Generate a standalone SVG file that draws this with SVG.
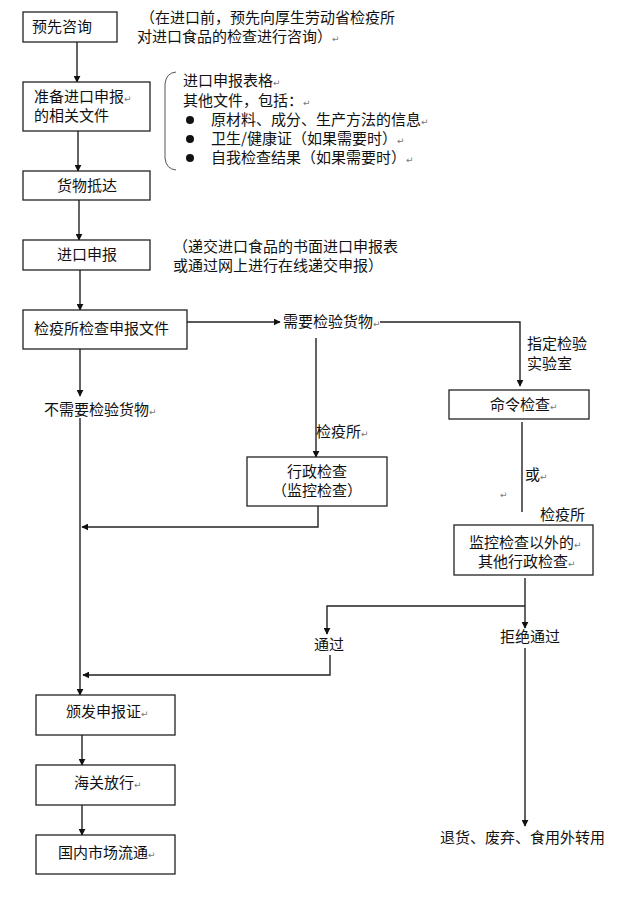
<svg xmlns="http://www.w3.org/2000/svg" width="620" height="900" viewBox="0 0 620 900">
<style>
text{font-family:"Noto Sans CJK SC","Noto Sans CJK JP",sans-serif;font-size:15px;fill:#111}
.c{text-anchor:middle}
.box{fill:#fff;stroke:#222;stroke-width:1.3}
.ln{fill:none;stroke:#222;stroke-width:1.4}
.rm{font-family:"DejaVu Sans",sans-serif;font-size:9px;fill:#777}
</style>
<defs>
<marker id="ah" viewBox="0 0 10 10" refX="9" refY="5" markerWidth="7" markerHeight="7" orient="auto" markerUnits="userSpaceOnUse">
<path d="M0,0 L10,5 L0,10 z" fill="#111"/>
</marker>
</defs>
<rect width="620" height="900" fill="#fff"/>
<g id="connectors">
<line class="ln" x1="77" y1="42" x2="77" y2="82" marker-end="url(#ah)"/>
<line class="ln" x1="78" y1="131" x2="78" y2="171" marker-end="url(#ah)"/>
<line class="ln" x1="79" y1="200" x2="79" y2="240" marker-end="url(#ah)"/>
<line class="ln" x1="80" y1="270" x2="80" y2="310" marker-end="url(#ah)"/>
<line class="ln" x1="187" y1="322" x2="280" y2="322" marker-end="url(#ah)"/>
<polyline class="ln" points="380,322 520,322 520,386" marker-end="url(#ah)"/>
<line class="ln" x1="316" y1="338" x2="316" y2="457" marker-end="url(#ah)"/>
<polyline class="ln" points="318,506 318,527 82,527" marker-end="url(#ah)"/>
<line class="ln" x1="80" y1="349" x2="80" y2="396" marker-end="url(#ah)"/>
<line class="ln" x1="80" y1="418" x2="80" y2="695" marker-end="url(#ah)"/>
<line class="ln" x1="522" y1="422" x2="522" y2="512"/>
<line class="ln" x1="525" y1="578" x2="525" y2="628" marker-end="url(#ah)"/>
<polyline class="ln" points="525,606 327,606 327,634" marker-end="url(#ah)"/>
<polyline class="ln" points="330,655 330,675 83,675" marker-end="url(#ah)"/>
<line class="ln" x1="525" y1="648" x2="525" y2="826" marker-end="url(#ah)"/>
<line class="ln" x1="82" y1="735" x2="82" y2="765" marker-end="url(#ah)"/>
<line class="ln" x1="82" y1="805" x2="82" y2="835" marker-end="url(#ah)"/>
</g>
<g id="n1"><rect class="box" x="23" y="12" width="94" height="30"/><text x="32" y="32">预先咨询</text></g>
<g id="note1"><text x="140" y="23">（在进口前，预先向厚生劳动省检疫所</text><text x="137" y="42">对进口食品的检查进行咨询）<tspan class="rm">↵</tspan></text></g>
<g id="n2"><rect class="box" x="23" y="82" width="127" height="49"/><text x="34" y="102">准备进口申报<tspan class="rm">↵</tspan></text><text x="34" y="121">的相关文件</text></g>
<g id="note2">
<path d="M176,72 Q166,73 165,84 L165,158 Q166,169 176,170" fill="none" stroke="#555" stroke-width="1"/>
<text x="183" y="86">进口申报表格<tspan class="rm">↵</tspan></text>
<text x="183" y="106">其他文件，包括：<tspan class="rm">↵</tspan></text>
<circle cx="190" cy="120" r="4" fill="#111"/><text x="211" y="125">原材料、成分、生产方法的信息<tspan class="rm">↵</tspan></text>
<circle cx="190" cy="139" r="4" fill="#111"/><text x="211" y="144">卫生/健康证（如果需要时）<tspan class="rm">↵</tspan></text>
<circle cx="190" cy="158" r="4" fill="#111"/><text x="211" y="163">自我检查结果（如果需要时）<tspan class="rm">↵</tspan></text>
</g>
<g id="n3"><rect class="box" x="23" y="171" width="127" height="29"/><text class="c" x="87" y="191">货物抵达</text></g>
<g id="n4"><rect class="box" x="23" y="240" width="127" height="30"/><text class="c" x="87" y="260">进口申报</text></g>
<g id="note3"><text x="173" y="252">（递交进口食品的书面进口申报表</text><text x="173" y="271">或通过网上进行在线递交申报）</text></g>
<g id="n5"><rect class="box" x="23" y="310" width="164" height="39"/><text x="34" y="334">检疫所检查申报文件</text></g>
<g id="l1"><text x="283" y="327">需要检验货物<tspan class="rm">↵</tspan></text></g>
<g id="l2"><text x="527" y="349">指定检验</text><text x="527" y="369">实验室</text></g>
<g id="l3"><text x="44" y="415">不需要检验货物<tspan class="rm">↵</tspan></text></g>
<g id="l4"><text x="316" y="437">检疫所<tspan class="rm">↵</tspan></text></g>
<g id="n6"><rect class="box" x="449" y="390" width="140" height="29"/><text x="490" y="410">命令检查<tspan class="rm">↵</tspan></text></g>
<g id="n7"><rect class="box" x="247" y="457" width="140" height="49"/><text class="c" x="317" y="477">行政检查</text><text class="c" x="317" y="496">（监控检查）</text></g>
<g id="l5"><text x="525" y="480">或<tspan class="rm">↵</tspan></text><text class="rm" x="500" y="498">↵</text><text x="540" y="520">检疫所</text></g>
<g id="n8"><rect class="box" x="454" y="525" width="139" height="50"/><text x="469" y="548">监控检查以外的<tspan class="rm">↵</tspan></text><text x="478" y="567">其他行政检查<tspan class="rm">↵</tspan></text></g>
<g id="l6"><text x="314" y="650">通过</text></g>
<g id="l7"><text x="500" y="642">拒绝通过</text></g>
<g id="l8"><text x="440" y="843">退货、废弃、食用外转用</text></g>
<g id="n9"><rect class="box" x="36" y="695" width="139" height="40"/><text x="66" y="717">颁发申报证<tspan class="rm">↵</tspan></text></g>
<g id="n10"><rect class="box" x="36" y="765" width="139" height="40"/><text x="74" y="788">海关放行<tspan class="rm">↵</tspan></text></g>
<g id="n11"><rect class="box" x="36" y="835" width="139" height="39"/><text x="58" y="858">国内市场流通<tspan class="rm">↵</tspan></text></g>
</svg>
